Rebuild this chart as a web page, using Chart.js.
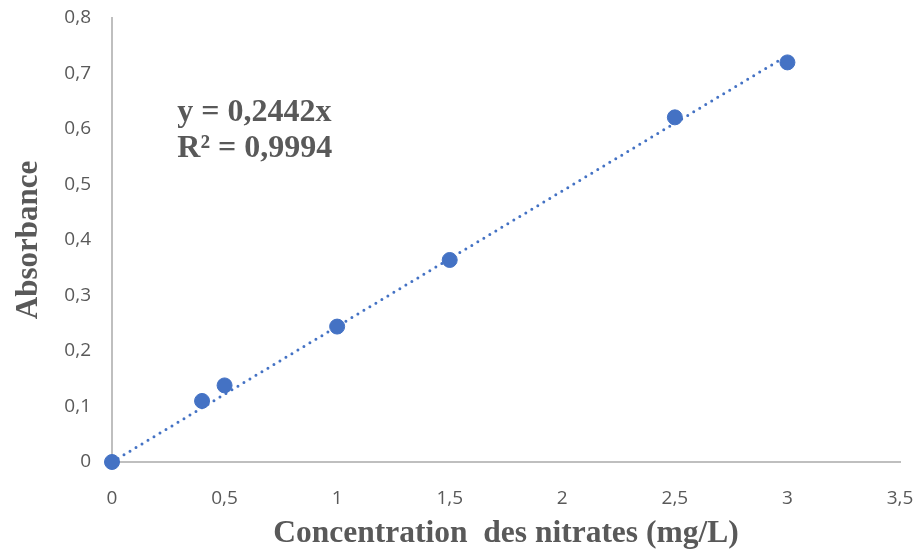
<!DOCTYPE html>
<html>
<head>
<meta charset="utf-8">
<script src="https://cdn.jsdelivr.net/npm/chart.js@4.4.1/dist/chart.umd.min.js"></script>
<style>
  html, body { margin: 0; padding: 0; background: #fff; }
  #wrap { width: 919px; height: 553px; }
</style>
</head>
<body>
<div id="wrap"><canvas id="calib"></canvas></div>
<script>
// Calibration data (nitrates)
const concentrations = [0, 0.4, 0.5, 1, 1.5, 2.5, 3];
const absorbances = [0, 0.11, 0.138, 0.244, 0.364, 0.621, 0.72];
const trendSlope = 0.2442;
const trendR2 = '0,9994';
const trendRange = [0, 3];

const grey = '#595959';
const blue = '#4472C4';

const fmt = v => String(v).replace('.', ',');

// equation label drawn inside the plot
const equationLabel = {
    id: 'equationLabel',
    afterDraw(chart) {
        const ctx = chart.ctx;
        const x = chart.scales.x.getPixelForValue(0.29);
        const y1 = chart.scales.y.getPixelForValue(0.614);
        ctx.save();
        ctx.fillStyle = grey;
        ctx.font = 'bold 32px "Liberation Serif"';
        ctx.textBaseline = 'alphabetic';
        ctx.fillText('y = ' + fmt(trendSlope) + 'x', x, y1);
        ctx.fillText('R² = ' + trendR2, x, y1 + 36);
        ctx.restore();
    }
};

const points = concentrations.map((c, i) => ({ x: c, y: absorbances[i] }));
const trend = trendRange.map(c => ({ x: c, y: trendSlope * c }));

new Chart(document.getElementById('calib'), {
    type: 'scatter',
    data: {
        datasets: [
            {
                label: 'Linéaire',
                data: trend,
                showLine: true,
                borderColor: blue,
                borderWidth: 3,
                borderDash: [0, 7],
                borderCapStyle: 'round',
                pointRadius: 0,
                clip: false,
                order: 2
            },
            {
                label: 'Absorbance',
                data: points,
                backgroundColor: blue,
                borderColor: blue,
                pointRadius: 7.5,
                clip: false,
                order: 1
            }
        ]
    },
    options: {
        responsive: true,
        maintainAspectRatio: false,
        animation: false,
        layout: { padding: { top: 18, right: 19, left: 0, bottom: 0 } },
        plugins: {
            legend: { display: false },
            tooltip: { enabled: false }
        },
        scales: {
            x: {
                type: 'linear',
                min: 0,
                max: 3.5,
                ticks: {
                    stepSize: 0.5,
                    color: grey,
                    padding: 17,
                    font: { family: '"Open Sans"', size: 19 },
                    callback: v => fmt(v)
                },
                grid: { display: false },
                border: { display: true, color: '#bfbfbf', width: 2 },
                title: {
                    display: true,
                    text: 'Concentration  des nitrates (mg/L)',
                    color: grey,
                    font: { family: '"Liberation Serif"', size: 31.5, weight: 'bold' },
                    padding: { top: 0, bottom: 0 }
                },
                afterFit: s => { s.height = 91; s.paddingLeft = 0; s.paddingRight = 0; }
            },
            y: {
                min: 0,
                max: 0.8,
                ticks: {
                    stepSize: 0.1,
                    color: grey,
                    padding: 13,
                    font: { family: '"Open Sans"', size: 19 },
                    callback: v => fmt(Math.round(v * 10) / 10)
                },
                grid: { display: false },
                border: { display: true, color: '#bfbfbf', width: 2 },
                title: {
                    display: true,
                    text: 'Absorbance',
                    color: grey,
                    font: { family: '"Liberation Serif"', size: 31, weight: 'bold' },
                    padding: { top: 10, bottom: 8 }
                },
                afterFit: s => { s.width = 112; s.paddingTop = 0; s.paddingBottom = 0; }
            }
        }
    },
    plugins: [equationLabel]
});
</script>
</body>
</html>
